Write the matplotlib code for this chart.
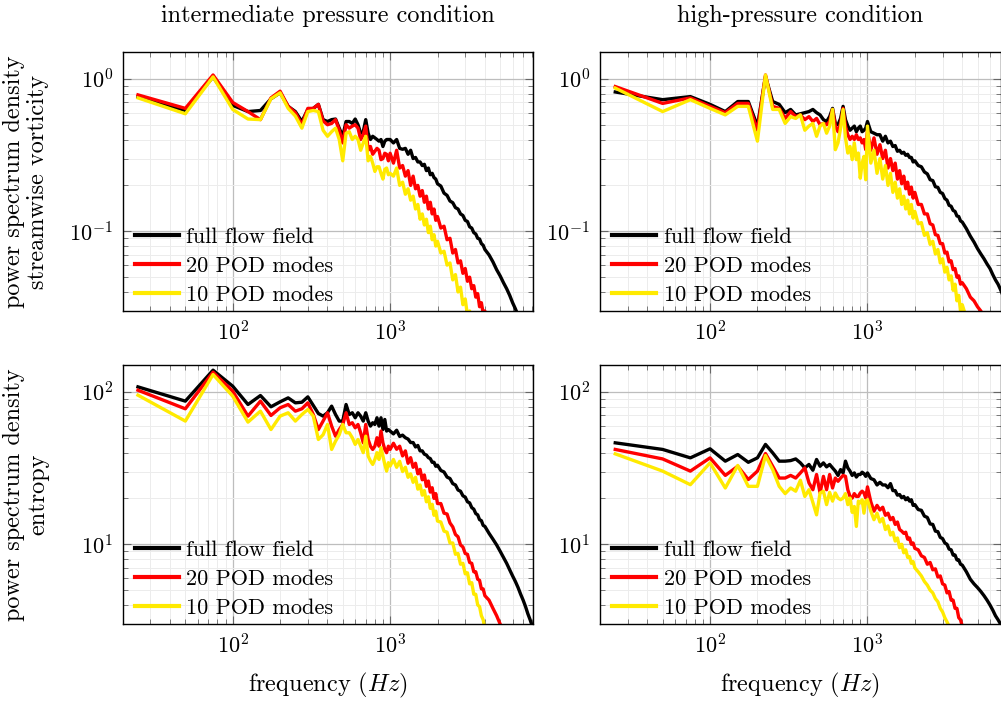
import numpy as np
import matplotlib
matplotlib.use("Agg")
import matplotlib.pyplot as plt
from matplotlib.ticker import LogLocator, NullFormatter

plt.rcParams.update({
    'font.family': 'serif',
    'font.serif': ['cmr10', 'DejaVu Serif'],
    'mathtext.fontset': 'cm',
    'axes.unicode_minus': False,
    'axes.formatter.use_mathtext': True,
})

# frequency grid (Hz): 25 Hz steps up to 1 kHz, coarser above
freq = np.concatenate([np.arange(25, 1001, 25), np.arange(1050, 2001, 50),
                       np.arange(2100, 4001, 100), np.arange(4250, 8001, 250)])

labels = ['full flow field', '20 POD modes', '10 POD modes']
col_titles = ['intermediate pressure condition', 'high-pressure condition']
row_labels = ['power spectrum density\nstreamwise vorticity', 'power spectrum density\nentropy']

# streamwise vorticity, intermediate pressure
vort_int_full = [0.76, 0.62, 1.03, 0.67, 0.61, 0.62, 0.74, 0.81, 0.66, 0.61,
                 0.525, 0.63, 0.64, 0.68, 0.54, 0.525, 0.54, 0.545, 0.475, 0.42,
                 0.525, 0.525, 0.51, 0.545, 0.50, 0.44, 0.45, 0.54, 0.44, 0.40,
                 0.42, 0.41, 0.40, 0.39, 0.40, 0.36, 0.39, 0.40, 0.40, 0.40,
                 0.38, 0.40, 0.35, 0.345, 0.35, 0.32, 0.34, 0.30, 0.305, 0.285,
                 0.285, 0.27, 0.275, 0.25, 0.26, 0.235, 0.24, 0.225, 0.22, 0.205,
                 0.198, 0.178, 0.172, 0.158, 0.154, 0.143, 0.14, 0.13, 0.127, 0.118,
                 0.116, 0.107, 0.105, 0.098, 0.096, 0.09, 0.089, 0.083, 0.081, 0.076,
                 0.07, 0.063, 0.056, 0.051, 0.046, 0.042, 0.038, 0.034, 0.031, 0.028,
                 0.025, 0.022, 0.02, 0.018, 0.016, 0.014]
vort_int_pod20 = [0.785, 0.64, 1.06, 0.70, 0.61, 0.54, 0.75, 0.83, 0.66, 0.60,
                  0.50, 0.64, 0.64, 0.68, 0.53, 0.50, 0.51, 0.54, 0.46, 0.38,
                  0.50, 0.475, 0.49, 0.50, 0.475, 0.40, 0.43, 0.49, 0.34, 0.36,
                  0.32, 0.335, 0.35, 0.34, 0.295, 0.30, 0.325, 0.32, 0.29, 0.325,
                  0.28, 0.34, 0.26, 0.27, 0.23, 0.25, 0.20, 0.23, 0.19, 0.20,
                  0.17, 0.185, 0.155, 0.17, 0.14, 0.155, 0.13, 0.14, 0.118, 0.125,
                  0.105, 0.108, 0.088, 0.09, 0.072, 0.076, 0.062, 0.064, 0.053, 0.057,
                  0.047, 0.05, 0.042, 0.044, 0.037, 0.039, 0.032, 0.034, 0.029, 0.03,
                  0.024, 0.021]
vort_int_pod10 = [0.75, 0.59, 1.03, 0.63, 0.545, 0.54, 0.74, 0.81, 0.64, 0.57,
                  0.475, 0.61, 0.62, 0.61, 0.46, 0.42, 0.45, 0.475, 0.40, 0.29,
                  0.44, 0.45, 0.40, 0.42, 0.40, 0.34, 0.38, 0.42, 0.29, 0.31,
                  0.28, 0.247, 0.265, 0.265, 0.24, 0.22, 0.255, 0.26, 0.235, 0.24,
                  0.23, 0.26, 0.20, 0.21, 0.175, 0.19, 0.16, 0.17, 0.14, 0.15,
                  0.12, 0.13, 0.11, 0.12, 0.098, 0.108, 0.088, 0.095, 0.08, 0.086,
                  0.072, 0.074, 0.06, 0.062, 0.048, 0.052, 0.04, 0.043, 0.033, 0.036,
                  0.028, 0.03, 0.024]

# streamwise vorticity, high pressure
vort_high_full = [0.82, 0.73, 0.765, 0.68, 0.61, 0.71, 0.71, 0.49, 1.035, 0.71,
                  0.68, 0.60, 0.63, 0.58, 0.59, 0.60, 0.61, 0.63, 0.60, 0.58,
                  0.54, 0.525, 0.565, 0.64, 0.51, 0.50, 0.55, 0.66, 0.54, 0.49,
                  0.46, 0.475, 0.49, 0.45, 0.475, 0.49, 0.45, 0.46, 0.475, 0.525,
                  0.45, 0.44, 0.43, 0.43, 0.39, 0.42, 0.38, 0.39, 0.36, 0.365,
                  0.335, 0.34, 0.325, 0.33, 0.315, 0.32, 0.305, 0.305, 0.285, 0.29,
                  0.27, 0.265, 0.245, 0.238, 0.218, 0.215, 0.196, 0.194, 0.18, 0.177,
                  0.164, 0.16, 0.148, 0.146, 0.137, 0.135, 0.126, 0.125, 0.117, 0.115,
                  0.104, 0.093, 0.085, 0.077, 0.071, 0.066, 0.061, 0.057, 0.052, 0.048,
                  0.045, 0.0415, 0.038, 0.035, 0.032, 0.03]
vort_high_pod20 = [0.89, 0.69, 0.75, 0.66, 0.60, 0.69, 0.69, 0.46, 1.06, 0.66,
                   0.64, 0.55, 0.61, 0.565, 0.58, 0.54, 0.565, 0.525, 0.55, 0.50,
                   0.51, 0.50, 0.525, 0.63, 0.49, 0.45, 0.51, 0.64, 0.49, 0.43,
                   0.40, 0.42, 0.40, 0.43, 0.40, 0.41, 0.38, 0.40, 0.343, 0.46,
                   0.34, 0.41, 0.32, 0.37, 0.30, 0.34, 0.26, 0.30, 0.25, 0.28,
                   0.22, 0.25, 0.205, 0.23, 0.19, 0.21, 0.175, 0.195, 0.165, 0.18,
                   0.15, 0.15, 0.13, 0.13, 0.112, 0.11, 0.095, 0.094, 0.083, 0.083,
                   0.072, 0.073, 0.063, 0.064, 0.056, 0.057, 0.05, 0.051, 0.045, 0.046,
                   0.042, 0.037, 0.035, 0.032, 0.03, 0.027]
vort_high_pod10 = [0.87, 0.61, 0.73, 0.64, 0.58, 0.66, 0.66, 0.39, 1.06, 0.63,
                   0.63, 0.51, 0.565, 0.55, 0.58, 0.46, 0.49, 0.51, 0.42, 0.49,
                   0.51, 0.44, 0.49, 0.63, 0.343, 0.38, 0.475, 0.63, 0.41, 0.326,
                   0.36, 0.295, 0.38, 0.295, 0.326, 0.223, 0.28, 0.31, 0.218, 0.49,
                   0.28, 0.34, 0.24, 0.30, 0.22, 0.27, 0.20, 0.24, 0.18, 0.21,
                   0.165, 0.19, 0.15, 0.17, 0.14, 0.16, 0.13, 0.15, 0.122, 0.135,
                   0.112, 0.114, 0.094, 0.098, 0.082, 0.086, 0.071, 0.076, 0.062, 0.066,
                   0.054, 0.058, 0.048, 0.051, 0.041, 0.045, 0.035, 0.038, 0.03, 0.033,
                   0.027]

# entropy, intermediate pressure
ent_int_full = [107.8, 86.9, 138.7, 108.9, 82.6, 94.6, 79.8, 86.0, 91.3, 84.7,
                85.5, 92.7, 81.4, 72.1, 69.3, 72.9, 80.6, 71.0, 64.3, 64.3,
                82.6, 71.0, 72.9, 67.6, 72.9, 69.3, 64.3, 72.9, 64.3, 59.6,
                62.7, 61.1, 67.6, 59.6, 67.6, 56.6, 65.9, 55.3, 56.6, 55.3,
                53, 56, 51, 52, 50, 49, 46.5, 46.5, 43.5, 44.5,
                41, 41, 39, 38.5, 37, 36.5, 34.5, 34.5, 32.5, 33,
                30.5, 29.8, 27.6, 27, 25, 24.5, 22.7, 22.3, 20.8, 20.4,
                19, 18.7, 17.4, 17, 15.9, 15.6, 14.5, 14.3, 13.3, 13.1,
                11.8, 10.8, 9.9, 9.0, 8.2, 7.5, 6.8, 6.2, 5.7, 5.2,
                4.7, 4.3, 3.9, 3.5, 3.2, 2.9]
ent_int_pod20 = [102.5, 77.4, 134.5, 101, 69.3, 86.9, 70.0, 78.6, 82.6, 74.7,
                 77.4, 84.7, 71.0, 56.6, 64.3, 72.9, 59.6, 51.2, 56.6, 61.1,
                 72.9, 61.1, 62.7, 58.1, 61.1, 53.9, 46.3, 61.1, 48.7, 44.0,
                 41.9, 44.0, 50.0, 44.0, 55.3, 46.3, 41.9, 39.9, 44.0, 41.9,
                 46, 42, 44, 38, 41, 34, 37, 32, 34, 29,
                 31, 26.5, 28.5, 24, 26, 22, 23.5, 20, 21.5, 18.5,
                 18.5, 16, 15.8, 13.8, 13, 11.6, 11.2, 9.9, 9.6, 8.7,
                 8.6, 7.6, 7.5, 6.6, 6.6, 5.9, 5.8, 5.1, 5.1, 4.6,
                 4.3, 3.8, 3.4, 3.0, 2.7]
ent_int_pod10 = [95.1, 64.3, 129.9, 93.7, 63.3, 74.7, 56.6, 69.3, 72.9, 64.3,
                 71.0, 76.6, 69.3, 48.7, 52.3, 61.1, 41.9, 47.5, 52.3, 61.1,
                 53.9, 53.9, 50.0, 45.2, 48.7, 44.0, 39.9, 51.2, 37.9, 35.2,
                 33.4, 36.0, 39.9, 36.0, 43.0, 37.9, 33.4, 30.2, 34.3, 32.6,
                 36, 32, 35, 30, 32, 27.5, 29, 25.5, 27.5, 23,
                 24.5, 21, 22.5, 19, 20.5, 17.2, 18.3, 15.5, 16.5, 14.2,
                 14, 12.2, 12, 10.2, 10.2, 8.6, 8.7, 7.4, 7.5, 6.4,
                 6.5, 5.5, 5.6, 4.7, 4.7, 4.0, 3.9, 3.4, 3.2, 2.8]

# entropy, high pressure
ent_high_full = [46.3, 41.9, 36.9, 42.3, 35.1, 38.8, 34.5, 36.9, 45.2, 39.8,
                 35.1, 35.1, 35.4, 36.3, 34.2, 31.7, 33.4, 30.6, 36.0, 32.5,
                 34.2, 32.2, 33.4, 31.7, 30.2, 28.3, 30.9, 29.4, 35.1, 31.7,
                 30.2, 28.3, 29.4, 27.6, 28.7, 28.7, 29.7, 29.1, 27.9, 29.4,
                 27, 26.5, 24.5, 25.5, 24.5, 24.5, 23.5, 25, 22.5, 22.5,
                 21, 21.2, 20.2, 20.6, 19.6, 20.2, 19.2, 19.6, 18, 18.2,
                 16.9, 16.7, 15.3, 15, 13.6, 13.5, 12.2, 12.1, 11.1, 10.9,
                 10.2, 10, 9.3, 9.2, 8.5, 8.5, 7.9, 7.9, 7.4, 7.3,
                 6.6, 5.9, 5.5, 5.2, 4.9, 4.6, 4.3, 4.0, 3.7, 3.4,
                 3.2, 3.0, 2.8, 2.6, 2.4, 2.2]
ent_high_pod20 = [41.9, 36.3, 30.2, 36.9, 28.3, 32.5, 26.6, 30.2, 39.4, 32.5,
                  27.2, 27.2, 28.3, 27.2, 29.4, 31.7, 25.3, 22.8, 28.7, 21.7,
                  27.9, 22.8, 28.7, 23.4, 27.2, 25.9, 27.2, 28.3, 27.9, 22.8,
                  20.6, 20.1, 21.5, 20.6, 20.6, 21.7, 22.3, 21.7, 20.1, 23.8,
                  19, 16.5, 18, 16.8, 17.5, 15.5, 16, 14.5, 15, 13.5,
                  14, 12.5, 12.2, 11.8, 12, 10.8, 11, 10, 10.2, 9.4,
                  9.2, 8.4, 8.2, 7.4, 7.6, 6.8, 6.9, 6.1, 6.2, 5.5,
                  5.4, 4.8, 4.9, 4.3, 4.3, 3.8, 3.8, 3.3, 3.2, 2.9]
ent_high_pod10 = [39.2, 30.2, 24.6, 34.2, 23.4, 32.9, 24.0, 24.0, 38.2, 30.9,
                  24.0, 21.5, 23.4, 22.3, 26.3, 20.6, 22.8, 18.8, 15.6, 21.7,
                  22.3, 18.2, 21.9, 19.2, 21.7, 20.1, 19.6, 20.1, 21.5, 18.2,
                  20.1, 16.2, 17.7, 13.1, 19.2, 18.7, 19.6, 16.0, 19.2, 19.6,
                  16.5, 14.5, 16, 14, 14.8, 12.5, 13.2, 11.5, 12, 10.5,
                  11, 9.5, 10, 8.8, 9.2, 8.2, 8.3, 7.5, 7.7, 7,
                  6.6, 6.2, 5.7, 5.4, 5.0, 4.8, 4.4, 4.2, 3.8, 3.6,
                  3.3, 3.1, 2.9]

colors = ['black', '#ff0000', '#ffea00']
W, H = 1001, 703
fig = plt.figure(figsize=(W / 100, H / 100), dpi=100)

# axes boxes in pixels: left, top, width, height
boxes = [[(122.7, 52, 410, 259), (600, 52, 401, 259)],
         [(122.7, 365, 410, 259), (600, 365, 401, 259)]]
xlims = [(20, 8050), (20, 7050)]
ylims = [(0.03, 1.5), (3, 150)]
data = [[(vort_int_full, vort_int_pod20, vort_int_pod10),
         (vort_high_full, vort_high_pod20, vort_high_pod10)],
        [(ent_int_full, ent_int_pod20, ent_int_pod10),
         (ent_high_full, ent_high_pod20, ent_high_pod10)]]

FS = 16
LFS = 17.5
for r in range(2):
    for c in range(2):
        l, t, w, h = boxes[r][c]
        ax = fig.add_axes([l / W, (H - t - h) / H, w / W, h / H])
        for series, lab, col in zip(data[r][c], labels, colors):
            ax.plot(freq[:len(series)], series, color=col, lw=2.4, label=lab)
        ax.set_xscale('log')
        ax.set_yscale('log')
        ax.set_xlim(*xlims[c])
        ax.set_ylim(*ylims[r])
        ax.xaxis.set_minor_formatter(NullFormatter())
        ax.yaxis.set_minor_formatter(NullFormatter())
        ax.yaxis.set_major_locator(LogLocator(base=10, numticks=10))
        ax.grid(True, which='major', color='#bdbdbd', lw=0.9)
        ax.grid(True, which='minor', color='#ececec', lw=0.7)
        ax.set_axisbelow(True)
        ax.tick_params(which='both', direction='in', top=True, right=True,
                       color='#666666', labelsize=FS)
        ax.tick_params(which='major', length=6, width=0.8, pad=7)
        ax.tick_params(which='minor', length=3.5, width=0.6)
        for sp in ax.spines.values():
            sp.set_linewidth(1.0)
        leg = ax.legend(loc='lower left', bbox_to_anchor=(12 / w, 6 / h),
                        frameon=False, fontsize=FS, handlelength=2.0,
                        handletextpad=0.32, labelspacing=0.42, borderaxespad=0,
                        borderpad=0)
        for ln in leg.get_lines():
            ln.set_linewidth(3.0)
        if r == 0:
            fig.text((l + w / 2) / W, 1 - 16 / H, col_titles[c], ha='center',
                     va='center', fontsize=LFS)
        else:
            fig.text((l + w / 2) / W, 1 - 685 / H, 'frequency ($Hz$)', ha='center',
                     va='center', fontsize=LFS)
        if c == 0:
            fig.text(26 / W, 1 - (t + h / 2) / H, row_labels[r], rotation=90,
                     ha='center', va='center', ma='center', fontsize=LFS,
                     linespacing=1.15)

fig.savefig('out.png', dpi=100)
